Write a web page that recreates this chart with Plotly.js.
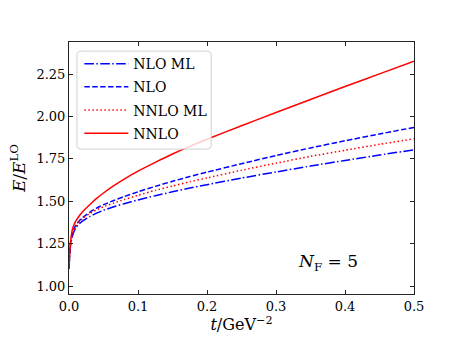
<!DOCTYPE html>
<html>
<head>
<meta charset="utf-8">
<script src="https://cdn.plot.ly/plotly-3.0.1.min.js"></script>
<style>
  html, body { margin: 0; padding: 0; background: #fff; }
  #chart { width: 461px; height: 355px; }
</style>
</head>
<body>
<div id="chart"></div>
<script>
// t in GeV^-2
let t      = [0, 0.001, 0.0025, 0.005, 0.0075, 0.01, 0.015, 0.02, 0.03, 0.04, 0.05, 0.065, 0.08, 0.1, 0.125, 0.15, 0.175, 0.2, 0.25, 0.3, 0.35, 0.4, 0.45, 0.5];
let nloML  = [1.10, 1.185, 1.25, 1.295, 1.325, 1.345, 1.368, 1.385, 1.41, 1.43, 1.447, 1.468, 1.486, 1.508, 1.533, 1.556, 1.578, 1.598, 1.637, 1.673, 1.708, 1.741, 1.773, 1.804];
let nlo    = [1.10, 1.19, 1.26, 1.31, 1.34, 1.36, 1.385, 1.405, 1.435, 1.46, 1.48, 1.505, 1.528, 1.556, 1.588, 1.618, 1.646, 1.672, 1.722, 1.77, 1.815, 1.857, 1.897, 1.936];
let nnloML = [1.10, 1.19, 1.26, 1.305, 1.335, 1.355, 1.38, 1.40, 1.428, 1.45, 1.468, 1.49, 1.51, 1.535, 1.565, 1.59, 1.615, 1.638, 1.683, 1.725, 1.765, 1.801, 1.836, 1.869];
let nnlo   = [1.10, 1.20, 1.27, 1.335, 1.365, 1.385, 1.415, 1.44, 1.48, 1.517, 1.549, 1.592, 1.631, 1.678, 1.730, 1.779, 1.824, 1.866, 1.946, 2.024, 2.101, 2.177, 2.252, 2.326];

let xTicks = [0, 0.1, 0.2, 0.3, 0.4, 0.5];
let xTickText = ['0.0', '0.1', '0.2', '0.3', '0.4', '0.5'];
let yTicks = [1.0, 1.25, 1.5, 1.75, 2.0, 2.25];
let yTickText = ['1.00', '1.25', '1.50', '1.75', '2.00', '2.25'];

const serif = 'DejaVu Serif, Liberation Serif, serif';

function curve(y, name, color, dash) {
    return {x: t, y: y, name: name, legendgroup: name, mode: 'lines',
            line: {color: color, width: 1.5, dash: dash, shape: 'spline', smoothing: 0.5}};
}

var traces = [
    curve(nloML, 'NLO ML', '#0000ff', '9.6px,2.4px,1.5px,2.4px'),
    curve(nlo, 'NLO', '#0000ff', '5.5px,2.4px'),
    curve(nnloML, 'NNLO ML', '#ff0000', '1.5px,2.5px'),
    curve(nnlo, 'NNLO', '#ff0000', 'solid')
];

// rounded legend frame (paper coords), matplotlib style
let bx0 = 0.023, bx1 = 0.412, by0 = 0.575, by1 = 0.964, rx = 0.012, ry = 0.016;
let framePath = 'M' + (bx0 + rx) + ',' + by1 + ' L' + (bx1 - rx) + ',' + by1 +
    ' Q' + bx1 + ',' + by1 + ' ' + bx1 + ',' + (by1 - ry) +
    ' L' + bx1 + ',' + (by0 + ry) + ' Q' + bx1 + ',' + by0 + ' ' + (bx1 - rx) + ',' + by0 +
    ' L' + (bx0 + rx) + ',' + by0 + ' Q' + bx0 + ',' + by0 + ' ' + bx0 + ',' + (by0 + ry) +
    ' L' + bx0 + ',' + (by1 - ry) + ' Q' + bx0 + ',' + by1 + ' ' + (bx0 + rx) + ',' + by1 + ' Z';

var layout = {
    width: 461,
    height: 355,
    margin: {l: 69, r: 47, t: 42, b: 61, pad: 0},
    paper_bgcolor: '#fff',
    plot_bgcolor: '#fff',
    font: {family: serif, size: 13, color: '#000'},
    showlegend: true,
    legend: {
        x: 0.03, y: 0.976, xanchor: 'left', yanchor: 'top',
        bgcolor: 'rgba(0,0,0,0)', borderwidth: 0,
        itemwidth: 44, tracegroupgap: 2,
        font: {family: serif, size: 14}
    },
    shapes: [{
        type: 'path', xref: 'paper', yref: 'paper', path: framePath,
        fillcolor: 'rgba(255,255,255,0.8)', line: {color: '#d0d0d0', width: 1},
        layer: 'above'
    }],
    xaxis: {
        range: [0, 0.5],
        tickvals: xTicks, ticktext: xTickText,
        ticks: 'inside', ticklen: 4, tickcolor: '#222',
        showline: true, linecolor: '#222', linewidth: 1, mirror: 'ticks',
        showgrid: false, zeroline: false,
        tickfont: {family: serif, size: 13},
        title: {text: '<i>t</i>/GeV<sup>−2</sup>', font: {family: serif, size: 16}, standoff: 4}
    },
    yaxis: {
        range: [0.953, 2.44],
        tickvals: yTicks, ticktext: yTickText,
        ticks: 'inside', ticklen: 4, tickcolor: '#222',
        showline: true, linecolor: '#222', linewidth: 1, mirror: 'ticks',
        showgrid: false, zeroline: false,
        tickfont: {family: serif, size: 13},
        title: {text: '<i>E</i>/<i>E</i><sup>LO</sup>', font: {family: serif, size: 17}, standoff: 6}
    },
    annotations: [{
        x: 0.376, y: 1.136, xref: 'x', yref: 'y',
        text: '<i>N</i><sub>F</sub> = 5', showarrow: false,
        font: {family: serif, size: 17}
    }]
};

Plotly.newPlot('chart', traces, layout, {displayModeBar: false, staticPlot: true});
</script>
</body>
</html>
